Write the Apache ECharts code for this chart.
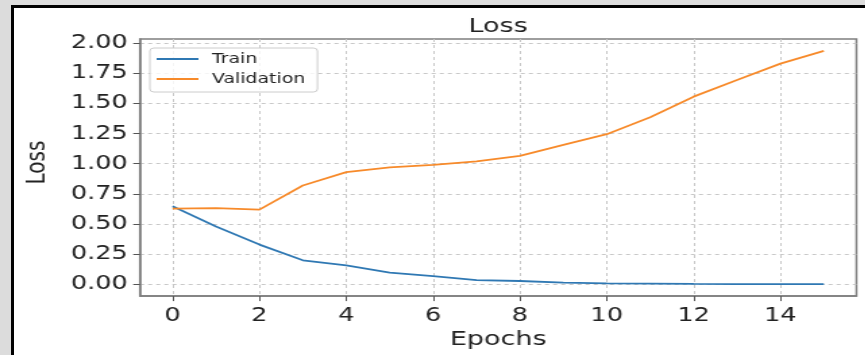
<!DOCTYPE html>
<html>
<head>
<meta charset="utf-8">
<script src="https://cdn.jsdelivr.net/npm/echarts@6/dist/echarts.min.js"></script>
<style>
  html, body { margin: 0; padding: 0; width: 865px; height: 355px; overflow: hidden; background: #dcdcdc; }
  #frame { position: absolute; left: 11px; top: 5px; right: 0; bottom: 0; background: #ffffff;
           border-left: 3px solid #000; border-top: 3px solid #000; }
  #chart { position: absolute; left: 0; top: 0; width: 640.7px; height: 355px;
           transform: scaleX(1.35); transform-origin: 0 0; }
</style>
</head>
<body>
<div id="frame"></div>
<div id="chart"></div>
<script>
const epochs = [0, 1, 2, 3, 4, 5, 6, 7, 8, 9, 10, 11, 12, 13, 14, 15];
const trainLoss = [0.648, 0.48, 0.33, 0.20, 0.157, 0.097, 0.069, 0.036, 0.028, 0.014, 0.008, 0.006, 0.004, 0.003, 0.003, 0.002];
const valLoss = [0.628, 0.632, 0.62, 0.82, 0.93, 0.97, 0.99, 1.02, 1.066, 1.157, 1.245, 1.386, 1.556, 1.694, 1.83, 1.936];
const xTicks = [0, 2, 4, 6, 8, 10, 12, 14];
const yTicks = [0, 0.25, 0.5, 0.75, 1.0, 1.25, 1.5, 1.75, 2.0];
const seriesNames = ['Train', 'Validation'];

const FONT = 'DejaVu Sans';
const chart = echarts.init(document.getElementById('chart'), null, { renderer: 'canvas' });
const gridLine = { show: true, lineStyle: { color: '#c8c8c8', width: 1, type: [3, 3] } };

chart.setOption({
  animation: false,
  title: {
    text: 'Loss', left: 368.9, top: 17, textAlign: 'center', padding: 0,
    textStyle: { fontFamily: FONT, fontSize: 20, fontWeight: 'normal', color: '#222' }
  },
  legend: {
    data: seriesNames, orient: 'vertical', left: 111, top: 48,
    padding: [4, 9, 6, 5], itemGap: 6, itemWidth: 31, itemHeight: 2, icon: 'rect',
    borderColor: '#cccccc', borderWidth: 1, borderRadius: 3, backgroundColor: 'rgba(255,255,255,0.8)',
    textStyle: { fontFamily: FONT, fontSize: 14, color: '#222', padding: [0, 0, 0, 5] }
  },
  grid: { left: 103.7, right: 6.6, top: 39, bottom: 58, show: true, borderColor: '#7f7f7f', borderWidth: 1.5, containLabel: false },
  xAxis: {
    type: 'value', min: -0.75, max: 15.75,
    name: 'Epochs', nameLocation: 'middle', nameGap: 31,
    nameTextStyle: { fontFamily: FONT, fontSize: 20, color: '#222' },
    axisLine: { show: true, onZero: false, lineStyle: { color: '#7f7f7f', width: 1.5 } },
    axisTick: { show: true, length: 5, customValues: xTicks, lineStyle: { color: '#555' } },
    axisLabel: { customValues: xTicks, margin: 10, fontFamily: FONT, fontSize: 19, color: '#222' },
    splitLine: gridLine
  },
  yAxis: {
    type: 'value', min: -0.097, max: 2.034,
    name: 'Loss', nameLocation: 'middle', nameGap: 66,
    nameTextStyle: { fontFamily: FONT, fontSize: 20, color: '#222', padding: [0, 0, 0, 10] },
    axisLine: { show: true, onZero: false, lineStyle: { color: '#7f7f7f', width: 1.5 } },
    axisTick: { show: true, length: 5, customValues: yTicks, lineStyle: { color: '#555' } },
    axisLabel: { customValues: yTicks, margin: 9, fontFamily: FONT, fontSize: 19, color: '#222',
                 formatter: v => v.toFixed(2) },
    splitLine: gridLine
  },
  series: [
    { name: seriesNames[0], type: 'line', data: epochs.map((e, i) => [e, trainLoss[i]]),
      symbol: 'none', lineStyle: { color: '#2f78b3', width: 1.8 }, itemStyle: { color: '#2f78b3' } },
    { name: seriesNames[1], type: 'line', data: epochs.map((e, i) => [e, valLoss[i]]),
      symbol: 'none', lineStyle: { color: '#f78a2a', width: 1.8 }, itemStyle: { color: '#f78a2a' } }
  ]
});
</script>
</body>
</html>
